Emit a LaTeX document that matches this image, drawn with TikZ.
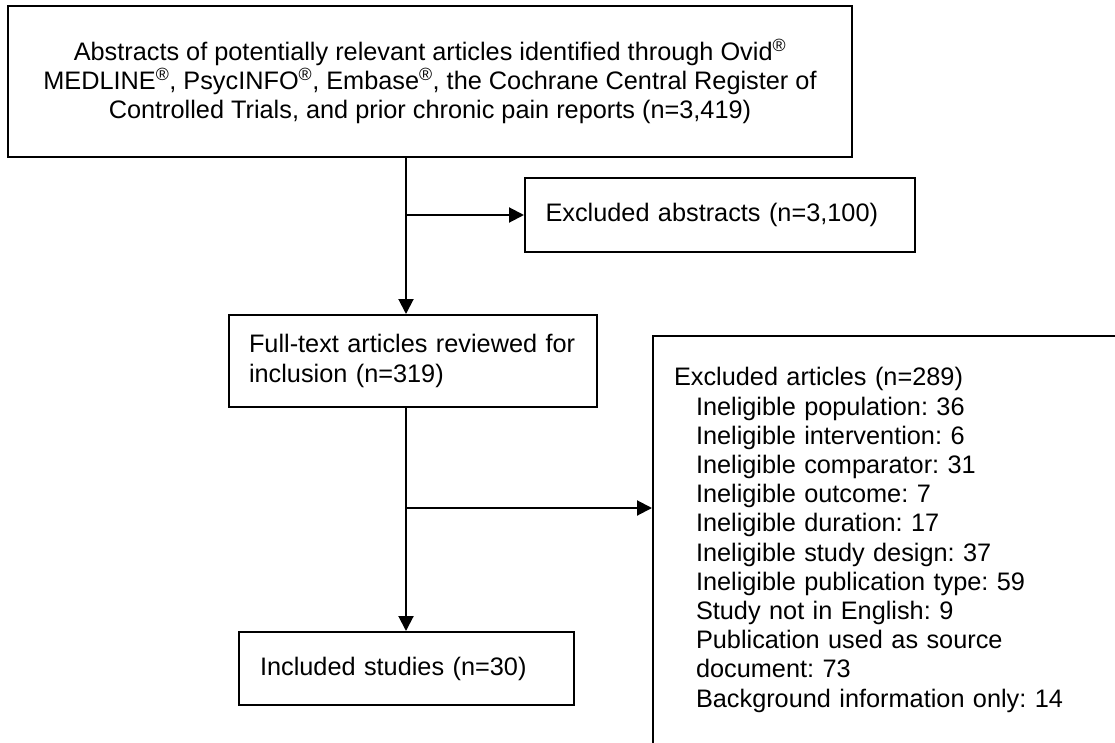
\documentclass[tikz,border=0pt]{standalone}
\usepackage{fontspec}
\setmainfont{Liberation Sans}
\usetikzlibrary{arrows.meta}

\tikzset{
  boite/.style={draw=black, line width=2pt, rectangle, inner sep=0pt},
  fleche/.style={line width=2pt, -{Triangle[length=15pt,width=15pt]}},
}

\begin{document}
\frenchspacing
\begin{tikzpicture}[x=1pt, y=-1pt]
      \fontsize{25.3}{29.2}\selectfont
      % Cadre de la figure
      \useasboundingbox (0,0) rectangle (1115,743);

      % Boites
      \node[boite, minimum width=844pt, minimum height=151pt, align=center] (abstracts) at (430,81.5)
        {Abstracts of potentially relevant articles identified through Ovid\textsuperscript{®}\\
         MEDLINE\textsuperscript{®}, PsycINFO\textsuperscript{®}, Embase\textsuperscript{®}, the Cochrane Central Register of\\
         Controlled Trials, and prior chronic pain reports (n=3,419)};
      \node[boite, minimum width=390pt, minimum height=74pt, text width=349pt, inner xsep=20.5pt, align=left] (exabstracts) at (720,215)
        {Excluded abstracts (n=3,100)};
      \node[boite, minimum width=368pt, minimum height=92pt, text width=328pt, inner xsep=20pt, align=left] (fulltext) at (413,361)
        {Full-text articles reviewed for\\ inclusion (n=319)};
      \node[boite, minimum width=335pt, minimum height=73pt, text width=293pt, inner xsep=21pt, align=left] (included) at (406.5,668.5)
        {Included studies (n=30)};
      \node[boite, minimum width=470pt, minimum height=408pt, text width=430pt, inner xsep=21pt, align=left] (exarticles) at (889,540)
        {Excluded articles (n=289)\\
         \hspace*{22pt}Ineligible population: 36\\
         \hspace*{22pt}Ineligible intervention: 6\\
         \hspace*{22pt}Ineligible comparator: 31\\
         \hspace*{22pt}Ineligible outcome: 7\\
         \hspace*{22pt}Ineligible duration: 17\\
         \hspace*{22pt}Ineligible study design: 37\\
         \hspace*{22pt}Ineligible publication type: 59\\
         \hspace*{22pt}Study not in English: 9\\
         \hspace*{22pt}Publication used as source\\
         \hspace*{22pt}document: 73\\
         \hspace*{22pt}Background information only: 14};

      % Axe vertical et embranchements
      \coordinate (axe) at (406,0);
      \coordinate (branche) at (406,508);

      % Fleches
      \draw[fleche] (abstracts.south -| axe) -- (fulltext.north -| axe);
      \draw[fleche] (exabstracts.west -| axe) -- (exabstracts.west);
      \draw[fleche] (fulltext.south -| axe) -- (included.north -| axe);
      \draw[fleche] (branche) -- (branche -| exarticles.west);
    \end{tikzpicture}
\end{document}
